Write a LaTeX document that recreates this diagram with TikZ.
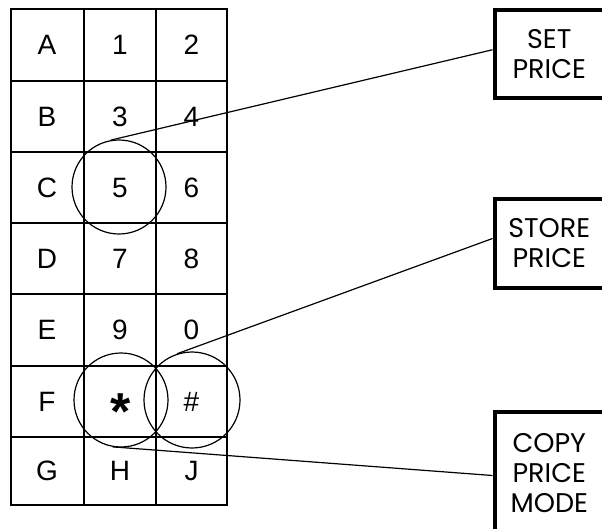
\documentclass[tikz,border=0pt]{standalone}
\usepackage{fontspec}
\setmainfont{Liberation Sans}
\newfontfamily\boxfont{Poppins}
\begin{document}
\begin{tikzpicture}[x=1pt,y=-1pt,
  gridline/.style={line width=1.6pt},
  key/.style={font=\fontsize{28}{28}\selectfont, inner sep=0pt},
  ring/.style={circle, draw, line width=1.2pt, inner sep=0pt},
  labelbox/.style={draw, line width=4pt, inner sep=0pt, font=\boxfont\fontsize{27}{30}\selectfont, align=center, minimum width=109.5pt},
  link/.style={line width=1.2pt}]
\useasboundingbox (0,0) rectangle (602,528);
\clip (0,0) rectangle (602,528);
% keypad grid
\draw[gridline] (11,9) rectangle (227,505);
\foreach \x in {84,156} \draw[gridline] (\x,9) -- (\x,505);
\foreach \y in {81,152,223,294,366,437} \draw[gridline] (11,\y) -- (227,\y);
% keys
\node[key] (kA) at (47,45) {A};
\node[key] (k1) at (120,45) {1};
\node[key] (k2) at (191.5,45) {2};
\node[key] (kB) at (47,116.5) {B};
\node[key] (k3) at (120,116.5) {3};
\node[key] (k4) at (191.5,116.5) {4};
\node[key] (kC) at (47,187.5) {C};
\node[key] (k5) at (120,187.5) {5};
\node[key] (k6) at (191.5,187.5) {6};
\node[key] (kD) at (47,258.5) {D};
\node[key] (k7) at (120,258.5) {7};
\node[key] (k8) at (191.5,258.5) {8};
\node[key] (kE) at (47,330) {E};
\node[key] (k9) at (120,330) {9};
\node[key] (k0) at (191.5,330) {0};
\node[key] (kF) at (47,401.5) {F};
\node[key, font=\fontsize{52}{52}\selectfont\bfseries, yshift=-10.5pt] (kstar) at (121,401.5) {*};
\node[key] (khash) at (191.5,401.5) {\#};
\node[key] (kG) at (47,471) {G};
\node[key] (kH) at (120,471) {H};
\node[key] (kJ) at (191.5,471) {J};
% circles
\node[ring, minimum size=94pt] (c5) at (119,187) {};
\node[ring, minimum size=94pt] (cstar) at (121,400) {};
\node[ring, minimum size=96pt] (chash) at (192,400) {};
% label boxes
\node[labelbox, minimum height=87.5pt] (setbox) at (549.25,53.75) {SET\\PRICE};
\node[labelbox, minimum height=89pt] (storebox) at (549.25,243.5) {STORE\\PRICE};
\node[labelbox, minimum height=123pt] (copybox) at (549.25,473.5) {COPY\\PRICE\\MODE};
% connectors
\draw[link] ([yshift=4pt]setbox.west) -- (c5.100);
\draw[link] ([yshift=5pt]storebox.west) -- (chash.108);
\draw[link] ([yshift=-2pt]copybox.west) -- (cstar.260);
\end{tikzpicture}
\end{document}
